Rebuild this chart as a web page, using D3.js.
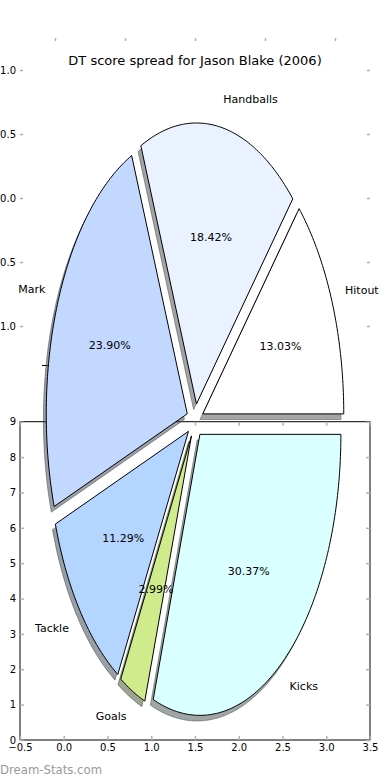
<!DOCTYPE html>
<html><head><meta charset="utf-8">
<script src="https://cdn.jsdelivr.net/npm/d3@7"></script>
<style>body{margin:0;background:#fff} svg{display:block} text{font-family:"DejaVu Sans",sans-serif}</style>
</head><body><svg id="c" width="390" height="780"></svg>
<script>
// ---- data ----
const categories = ["Hitout", "Handballs", "Mark", "Tackle", "Goals", "Kicks"];
const shares = [13.03, 18.42, 23.90, 11.29, 2.99, 30.37];
const sliceColors = ["#ffffff", "#eaf2ff", "#c3d8ff", "#b4d5ff", "#d0eb8c", "#d9ffff"];
const pieTicks = [-1, -0.5, 0, 0.5, 1];
const pieTickLabels = ["\u22121.0", "\u22120.5", "0.0", "0.5", "1.0"];
const xTicks = [-0.5, 0, 0.5, 1, 1.5, 2, 2.5, 3, 3.5];
const xTickLabels = ["\u22120.5", "0.0", "0.5", "1.0", "1.5", "2.0", "2.5", "3.0", "3.5"];
const yTicks = [0, 1, 2, 3, 4, 5, 6, 7, 8, 9];
const yTickLabels = ["0", "1", "2", "3", "4", "5", "6", "7", "8", "9"];
const title = "DT score spread for Jason Blake (2006)";
const watermark = "Dream-Stats.com";

const svg = d3.select("#c");
svg.append("rect").attr("width", 390).attr("height", 780).attr("fill", "#fff");

// ---- scales ----
const bx = d3.scaleLinear([-0.5, 3.5], [20, 370]);
const by = d3.scaleLinear([0, 9], [740, 421.7]);
const tx = d3.scaleLinear([-1.25, 1.25], [20, 370]);
const ty = d3.scaleLinear([-1.25, 1.25], [358, 38]);
const cx = 195, cy = 420.6, rx = 141, ry = 281;
const px = d3.scaleLinear([-1, 1], [cx - rx, cx + rx]);
const py = d3.scaleLinear([-1, 1], [cy + ry, cy - ry]);

const tickCol = "#b0b0b0";
function styleAxis(g, labels) {
  g.select(".domain").remove();
  g.selectAll(".tick line").attr("stroke", tickCol).attr("stroke-width", 1.5);
  g.selectAll(".tick text").attr("fill", "#000").style("font-size", "10px")
    .style("font-family", "'DejaVu Sans', sans-serif");
  if (!labels) g.selectAll(".tick text").remove();
}

// ---- top (pie) axes: ticks only ----
svg.append("g").attr("transform", "translate(20,0)")
  .call(d3.axisLeft(ty).tickValues(pieTicks).tickFormat((d, i) => pieTickLabels[i]).tickSizeInner(-3).tickSizeOuter(0).tickPadding(4))
  .call(g => styleAxis(g, true));
svg.append("g").attr("transform", "translate(370,0)")
  .call(d3.axisRight(ty).tickValues(pieTicks).tickSizeInner(-3).tickSizeOuter(0))
  .call(g => styleAxis(g, false));
svg.append("g").attr("transform", "translate(0,38)")
  .call(d3.axisTop(tx).tickValues(pieTicks).tickSizeInner(-3).tickSizeOuter(0))
  .call(g => styleAxis(g, false));

// stray tick
svg.append("line").attr("x1", 42).attr("x2", 49).attr("y1", 365.5).attr("y2", 365.5).attr("stroke", "#000").attr("stroke-width", 1);

// ---- bottom axes ----
svg.append("rect").attr("x", bx(-0.5)).attr("y", by(9)).attr("width", bx(3.5) - bx(-0.5)).attr("height", by(0) - by(9))
  .attr("fill", "none").attr("stroke", "#000").attr("stroke-width", 1);
svg.append("g").attr("transform", `translate(0,${by(0)})`)
  .call(d3.axisBottom(bx).tickValues(xTicks).tickFormat((d, i) => xTickLabels[i]).tickSizeInner(-4).tickSizeOuter(0).tickPadding(4))
  .call(g => styleAxis(g, true));
svg.append("g").attr("transform", `translate(0,${by(9)})`)
  .call(d3.axisTop(bx).tickValues(xTicks).tickSizeInner(-4).tickSizeOuter(0))
  .call(g => styleAxis(g, false));
svg.append("g").attr("transform", `translate(${bx(-0.5)},0)`)
  .call(d3.axisLeft(by).tickValues(yTicks).tickFormat((d, i) => yTickLabels[i]).tickSizeInner(-4).tickSizeOuter(0).tickPadding(4))
  .call(g => styleAxis(g, true));
svg.append("g").attr("transform", `translate(${bx(3.5)},0)`)
  .call(d3.axisRight(by).tickValues(yTicks).tickSizeInner(-4).tickSizeOuter(0))
  .call(g => styleAxis(g, false));

// ---- pie ----
const pie = d3.pie().sort(null).startAngle(Math.PI / 2).endAngle(Math.PI / 2 - 2 * Math.PI);
const arcs = pie(shares);
const explode = 0.06;
const line = d3.line().x(d => px(d[0])).y(d => py(d[1]));
const wedges = arcs.map((a, i) => {
  const t0 = Math.PI / 2 - a.startAngle, t1 = Math.PI / 2 - a.endAngle;
  const tm = (t0 + t1) / 2;
  const ox = explode * Math.cos(tm), oy = explode * Math.sin(tm);
  const n = Math.max(4, Math.ceil((t1 - t0) / (2 * Math.PI) * 400));
  const pts = [[ox, oy]];
  for (let k = 0; k <= n; k++) {
    const t = t0 + (t1 - t0) * k / n;
    pts.push([ox + Math.cos(t), oy + Math.sin(t)]);
  }
  return { i, tm, ox, oy, pts };
});
function shadowColor(c) {
  const r = d3.rgb(c);
  return `rgba(${Math.round(r.r * 0.3)},${Math.round(r.g * 0.3)},${Math.round(r.b * 0.3)},0.5)`;
}
const gShadow = svg.append("g");
wedges.forEach(w => {
  const sp = w.pts.map(p => [p[0] - 0.02, p[1] - 0.02]);
  gShadow.append("path").attr("d", line(sp) + "Z")
    .attr("fill", shadowColor(sliceColors[w.i])).attr("stroke", shadowColor(sliceColors[w.i])).attr("stroke-width", 1)
    .attr("stroke-linejoin", "miter");
});
const gWedge = svg.append("g");
wedges.forEach(w => {
  gWedge.append("path").attr("d", line(w.pts) + "Z")
    .attr("fill", sliceColors[w.i]).attr("stroke", "#000").attr("stroke-width", 1)
    .attr("stroke-linejoin", "miter");
});
// labels
const gText = svg.append("g").style("font-size", "11px").attr("fill", "#000");
wedges.forEach(w => {
  const lx = w.ox + 1.1 * Math.cos(w.tm), ly = w.oy + 1.1 * Math.sin(w.tm);
  gText.append("text").attr("x", px(lx)).attr("y", py(ly))
    .attr("text-anchor", lx > 0 ? "start" : "end").attr("dominant-baseline", "central")
    .text(categories[w.i]);
  const qx = w.ox + 0.6 * Math.cos(w.tm), qy = w.oy + 0.6 * Math.sin(w.tm);
  gText.append("text").attr("x", px(qx)).attr("y", py(qy))
    .attr("text-anchor", "middle").attr("dominant-baseline", "central")
    .text(shares[w.i].toFixed(2) + "%");
});

// title
svg.append("text").attr("x", 195).attr("y", 60.5).attr("text-anchor", "middle").attr("dominant-baseline", "central")
  .style("font-size", "13px").attr("fill", "#000").text(title);
// watermark
svg.append("text").attr("x", 0).attr("y", 770).attr("dominant-baseline", "central")
  .style("font-size", "11.7px").attr("fill", "#9a9a9a").text(watermark);
</script></body></html>
